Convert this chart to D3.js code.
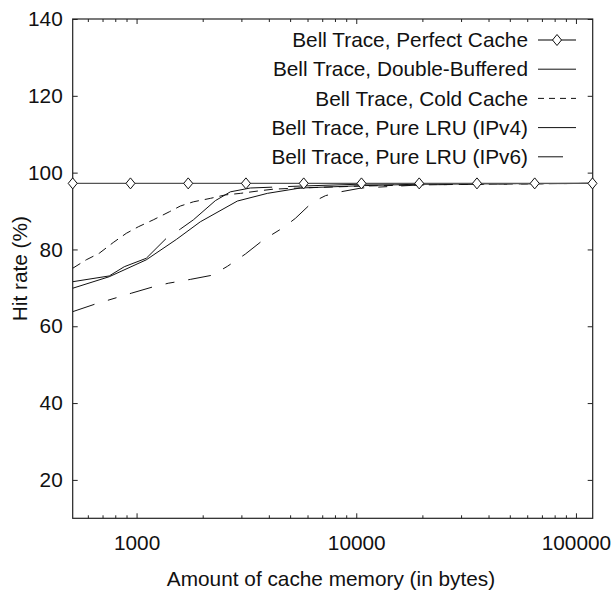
<!DOCTYPE html>
<html><head><meta charset="utf-8">
<script src="https://cdn.jsdelivr.net/npm/d3@7"></script>
<style>
body{margin:0;background:#fff;}
svg text{font-family:"Liberation Sans",Arial,Helvetica,sans-serif;fill:#111;}
</style></head>
<body><svg id="c" width="611" height="590"></svg>
<script>
// ---- data ----
const perfectX = [512, 938, 1718, 3147, 5765, 10561, 19345, 35437, 64915, 118915];
const perfectY = [97.2, 97.2, 97.2, 97.2, 97.2, 97.2, 97.2, 97.2, 97.2, 97.2];

const doubleX = [512, 751, 1107, 1517, 1951, 2876, 3939, 5569, 10560, 19610, 36800, 118915];
const doubleY = [69.9, 72.9, 77.3, 82.6, 87.2, 92.6, 94.6, 96.0, 96.6, 97.0, 97.1, 97.2];

const coldX = [512, 590, 676, 783, 898, 1018, 1191, 1409, 1582, 1813, 2167, 2536, 2968, 3548, 4196, 5569, 10560, 19610, 36800, 118915];
const coldY = [75.1, 77.3, 79.0, 81.8, 84.2, 85.9, 87.7, 89.8, 91.3, 92.4, 93.3, 94.2, 94.6, 95.2, 95.7, 96.0, 96.5, 96.8, 97.0, 97.2];

const ipv4X = [512, 751, 879, 1107, 1366, 1582, 1813, 2283, 2673, 3296, 5569, 10560, 19610, 118915];
const ipv4Y = [71.6, 73.1, 75.5, 77.7, 82.9, 85.3, 87.7, 92.7, 95.0, 96.0, 96.5, 97.0, 97.1, 97.2];

const ipv6X = [512, 642, 946, 1179, 1394, 1757, 2213, 2590, 3128, 3778, 4660, 5284, 6317, 7240, 8472, 10560, 19610, 36800, 118915];
const ipv6Y = [63.8, 65.7, 68.6, 70.2, 71.2, 72.2, 73.3, 75.6, 78.8, 82.5, 85.7, 88.1, 92.3, 94.0, 95.0, 96.0, 96.8, 97.0, 97.2];

const seriesNames = ["Bell Trace, Perfect Cache", "Bell Trace, Double-Buffered", "Bell Trace, Cold Cache", "Bell Trace, Pure LRU (IPv4)", "Bell Trace, Pure LRU (IPv6)"];
const xTickLabels = [1000, 10000, 100000];
const yTickLabels = [20, 40, 60, 80, 100, 120, 140];
const xAxisTitle = "Amount of cache memory (in bytes)";
const yAxisTitle = "Hit rate (%)";

// ---- layout ----
const L = 72.7, R = 592.7, T = 19, B = 518.3;
const svg = d3.select("#c");
const x = d3.scaleLog().domain([512, 119200]).range([L, R]);
const y = d3.scaleLinear().domain([10, 140]).range([B, T]);
const FS = "20.8px";

// minor ticks
const minor = [];
[100, 1000, 10000, 100000].forEach(d => { for (let k = 2; k <= 9; k++) { const v = d * k; if (v >= 512 && v <= 119200 && ![1000,10000,100000].includes(v)) minor.push(v); } });

const g = svg.append("g");
// bottom axis
const xb = d3.axisBottom(x).tickValues(xTickLabels).tickFormat(d3.format("d")).tickSize(-5);
const gx = g.append("g").attr("transform", `translate(0,${B})`).call(xb);
gx.selectAll(".domain").remove();
gx.selectAll("text").attr("font-size", FS).attr("dy", null).attr("y", 32);
// top axis ticks
const xt = d3.axisTop(x).tickValues(xTickLabels).tickFormat("").tickSize(-5);
const gxt = g.append("g").attr("transform", `translate(0,${T})`).call(xt);
gxt.selectAll(".domain").remove();
// minor ticks
const xbm = d3.axisBottom(x).tickValues(minor).tickFormat("").tickSize(-3);
g.append("g").attr("transform", `translate(0,${B})`).call(xbm).selectAll(".domain").remove();
const xtm = d3.axisTop(x).tickValues(minor).tickFormat("").tickSize(-3);
g.append("g").attr("transform", `translate(0,${T})`).call(xtm).selectAll(".domain").remove();
// left axis
const yl = d3.axisLeft(y).tickValues(yTickLabels).tickSize(-5).tickPadding(10);
const gy = g.append("g").attr("transform", `translate(${L},0)`).call(yl);
gy.selectAll(".domain").remove();
gy.selectAll("text").attr("font-size", FS);
const yr = d3.axisRight(y).tickValues(yTickLabels).tickFormat("").tickSize(-5);
g.append("g").attr("transform", `translate(${R},0)`).call(yr).selectAll(".domain").remove();
g.selectAll(".tick line").attr("stroke", "#222").attr("stroke-width", 1);

// frame
svg.append("rect").attr("x", L).attr("y", T).attr("width", R - L).attr("height", B - T)
  .attr("fill", "none").attr("stroke", "#222").attr("stroke-width", 1.2);

// titles
svg.append("text").attr("x", 331).attr("y", 586).attr("text-anchor", "middle").attr("font-size", FS).text(xAxisTitle);
svg.append("text").attr("transform", `translate(27,${(T + B) / 2}) rotate(-90)`).attr("text-anchor", "middle").attr("font-size", FS).text(yAxisTitle);

// lines
const line = d3.line().x(d => x(d[0])).y(d => y(d[1]));
const zip = (a, b) => a.map((v, i) => [v, b[i]]);
const styles = [
  {xs: perfectX, ys: perfectY, stroke: "#555", w: 1.3, dash: null},
  {xs: doubleX, ys: doubleY, stroke: "#111", w: 1, dash: null},
  {xs: coldX, ys: coldY, stroke: "#111", w: 1, dash: "9,6"},
  {xs: ipv4X, ys: ipv4Y, stroke: "#111", w: 1, dash: "106,16"},
  {xs: ipv6X, ys: ipv6Y, stroke: "#111", w: 1, dash: "23,14,9,14"}
];
const clip = svg.append("clipPath").attr("id", "cl").append("rect").attr("x", L).attr("y", T).attr("width", R - L).attr("height", B - T);
const pl = svg.append("g").attr("clip-path", "url(#cl)");
styles.slice(1).concat([styles[0]]).forEach(s => {
  pl.append("path").datum(zip(s.xs, s.ys)).attr("d", line).attr("fill", "none")
    .attr("stroke", s.stroke).attr("stroke-width", s.w).attr("stroke-dasharray", s.dash);
});
const diamond = "M0,-5.5L4.5,0L0,5.5L-4.5,0Z";
svg.append("g").selectAll("path").data(zip(perfectX, perfectY)).join("path")
  .attr("transform", d => `translate(${x(d[0])},${y(d[1])})`).attr("d", diamond)
  .attr("fill", "#fff").attr("stroke", "#111").attr("stroke-width", 1);

// legend
const lg = svg.append("g");
seriesNames.forEach((n, i) => {
  const cy = 40 + i * 29.2;
  lg.append("text").attr("x", 528).attr("y", cy).attr("dy", "0.35em").attr("text-anchor", "end").attr("font-size", FS).text(n);
  const s = styles[i];
  const ld = i === 2 ? "6,5" : (i === 4 ? "25,14" : null);
  lg.append("line").attr("x1", 538).attr("x2", 576).attr("y1", cy).attr("y2", cy)
    .attr("stroke", s.stroke).attr("stroke-width", s.w).attr("stroke-dasharray", ld);
  if (i === 0) lg.append("path").attr("transform", `translate(557,${cy})`).attr("d", diamond)
    .attr("fill", "#fff").attr("stroke", "#111");
});
</script></body></html>
